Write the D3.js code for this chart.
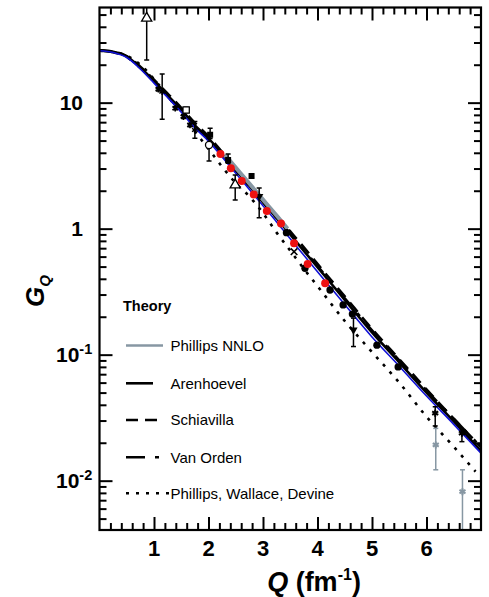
<!DOCTYPE html>
<html><head><meta charset="utf-8">
<script src="https://cdn.jsdelivr.net/npm/d3@7"></script>
<style>
body{margin:0;background:#fff}
svg{display:block;font-family:"Liberation Sans",Arial,Helvetica,sans-serif}
</style>
</head><body>
<svg id="c" width="489" height="597"></svg>
<script>
// ---------------- data ----------------
const xDomain = [0, 7];
const yDomain = [0.00406, 56.9];
const xTickLabels = ["1","2","3","4","5","6"];
const xTickValues = [1,2,3,4,5,6];
const yTickValues = [10, 1, 0.1, 0.01];
const yTickBase = ["10","1","10","10"];
const yTickExp  = ["","","-1","-2"];

// theory curves (Q in fm^-1)
const qGrid = [0,0.25,0.5,0.75,1.0,1.25,1.5,1.75,2.0,2.25,2.5,2.75,3.0,3.25,3.5,3.75,4.0,4.5,5.0,5.5,6.0,6.5,7.0];
const blueCurve  = [25.8,25.0,22.8,18.5,14.3,11.0,8.4,6.3,4.95,3.7,2.75,2.05,1.52,1.13,0.83,0.615,0.455,0.25,0.138,0.081,0.047,0.028,0.0165];
const arenhoevel = [26.0,25.3,23.2,19.0,14.8,11.4,8.8,6.6,5.2,3.9,2.92,2.18,1.62,1.21,0.90,0.665,0.495,0.272,0.150,0.087,0.050,0.0295,0.0172];
const schiavilla = [26.0,25.4,23.4,19.3,15.2,11.8,9.1,6.9,5.4,4.05,3.04,2.28,1.70,1.27,0.95,0.71,0.525,0.29,0.16,0.092,0.053,0.031,0.0185];
const vanOrden   = [25.8,25.1,23.0,18.8,14.6,11.2,8.6,6.5,5.1,3.85,2.88,2.16,1.62,1.22,0.91,0.68,0.505,0.28,0.156,0.090,0.052,0.031,0.0185];
const pwdQ = [0,0.25,0.5,0.75,1.0,1.25,1.5,1.75,2.0,2.25,2.5,2.75,3.0,3.25,3.5,3.75,4.0,4.5,5.0,5.5,6.0,6.5,6.9];
const pwd  = [25.8,25.2,23.6,20.0,15.4,11.3,8.2,5.9,4.3,3.1,2.3,1.8,1.33,0.93,0.67,0.48,0.35,0.185,0.105,0.060,0.0322,0.0186,0.0118];
const nnloQ = [2.3,2.5,2.75,3.0,3.25,3.45];
const nnlo  = [3.85,3.05,2.28,1.70,1.27,1.0];

// experimental data
const openTriQ = [0.866, 2.49], openTriG = [46.8, 2.22], openTriLo = [21.8, 1.69], openTriHi = [80, 2.67];
const openSqQ = [1.59], openSqG = [8.75], openSqLo = [8.35], openSqHi = [9.2];
const openCircQ = [2.01], openCircG = [4.61], openCircLo = [3.44], openCircHi = [5.2];
const fillSqQ = [2.03, 2.36, 2.79], fillSqG = [5.56, 3.51, 2.62], fillSqLo = [5.2, 3.3, 2.55], fillSqHi = [6.27, 3.92, 2.7];
const astQ = [1.15, 1.08, 1.39, 1.54, 1.66, 1.75], astG = [12.2, 12.8, 9.03, 7.74, 6.65, 6.07];
const astLo = [7.4, 12.4, 8.8, 7.5, 6.45, 5.21], astHi = [16.9, 13.2, 9.3, 8.0, 6.85, 7.07];
const downTriQ = [2.93, 4.66], downTriG = [1.80, 0.157], downTriLo = [1.22, 0.116], downTriHi = [2.10, 0.195];
const crossQ = [3.57], crossG = [0.656];
const redQ = [2.22, 2.41, 2.61, 2.83, 3.07, 3.33, 3.57, 3.82, 4.14];
const redG = [3.92, 3.02, 2.39, 1.87, 1.38, 1.10, 0.766, 0.525, 0.369];
const dotQ = [3.43, 3.77, 4.23, 4.47, 4.64, 5.09, 5.48];
const dotG = [0.93, 0.485, 0.326, 0.248, 0.21, 0.119, 0.080];
const starQ = [6.16, 6.65], starG = [0.0343, 0.0238], starLo = [0.0272, 0.0204], starHi = [0.0386, 0.0252];
const greyQ = [6.17, 6.66], greyG = [0.0192, 0.00818], greyLo = [0.0122, 0.003], greyHi = [0.026, 0.0122];

const legendLabels = ["Phillips NNLO","Arenhoevel","Schiavilla","Van Orden","Phillips, Wallace, Devine"];

// ---------------- drawing ----------------
const svg = d3.select("#c");
const L = 99.5, R = 481, T = 7.5, B = 530;
const x = d3.scaleLinear().domain(xDomain).range([L, R]);
const y = d3.scaleLog().domain(yDomain).range([B, T]);
const GREY = "#8797a3", BLUE = "#1111d6", RED = "#ee1111";

svg.append("defs").append("clipPath").attr("id","pc")
  .append("rect").attr("x",L).attr("y",T).attr("width",R-L).attr("height",B-T);
const plot = svg.append("g").attr("clip-path","url(#pc)");

const mk = (qs, gs) => qs.map((q,i)=>({q, g: gs[i]}));
const line = d3.line().x(d=>x(d.q)).y(d=>y(d.g)).curve(d3.curveMonotoneX);

function curve(data, stroke, w, dash){
  plot.append("path").attr("d", line(data)).attr("fill","none")
    .attr("stroke", stroke).attr("stroke-width", w)
    .attr("stroke-dasharray", dash || null);
}
curve(mk(qGrid, arenhoevel), "#000", 2.6);
curve(mk(qGrid, schiavilla), "#000", 2.6, "12,7");
curve(mk(qGrid, vanOrden), "#000", 2.6, "19,10,4,10");
curve(mk(pwdQ, pwd), "#000", 2.6, "3,7");
curve(mk(nnloQ, nnlo), GREY, 4);
curve(mk(qGrid, blueCurve), BLUE, 1.6);

function errbars(qs, lo, hi, color){
  const g = plot.append("g").attr("stroke", color).attr("stroke-width", 1.5);
  qs.forEach((q,i)=>{
    const xx = x(q);
    g.append("line").attr("x1",xx).attr("x2",xx).attr("y1",y(lo[i])).attr("y2",y(hi[i]));
    g.append("line").attr("x1",xx-2.5).attr("x2",xx+2.5).attr("y1",y(lo[i])).attr("y2",y(lo[i]));
    g.append("line").attr("x1",xx-2.5).attr("x2",xx+2.5).attr("y1",y(hi[i])).attr("y2",y(hi[i]));
  });
}
function markers(qs, gs, type, size, fill, stroke, sw, rot){
  const sym = d3.symbol().type(type).size(size);
  plot.append("g").selectAll("path").data(mk(qs, gs)).join("path")
    .attr("d", sym)
    .attr("transform", d=>`translate(${x(d.q)},${y(d.g)})${rot?` rotate(${rot})`:""}`)
    .attr("fill", fill).attr("stroke", stroke).attr("stroke-width", sw);
}

errbars(openTriQ, openTriLo, openTriHi, "#000");
markers(openTriQ, openTriG, d3.symbolTriangle, 45, "#fff", "#000", 1.3);
errbars(openSqQ, openSqLo, openSqHi, "#000");
markers(openSqQ, openSqG, d3.symbolSquare, 40, "#fff", "#000", 1.3);
errbars(openCircQ, openCircLo, openCircHi, "#000");
markers(openCircQ, openCircG, d3.symbolCircle, 40, "#fff", "#000", 1.3);
errbars(fillSqQ, fillSqLo, fillSqHi, "#000");
markers(fillSqQ, fillSqG, d3.symbolSquare, 36, "#000", "none", 0);
errbars(astQ, astLo, astHi, "#000");
markers(astQ, astG, d3.symbolAsterisk, 30, "none", "#000", 1.6);
errbars(downTriQ, downTriLo, downTriHi, "#000");
markers(downTriQ, downTriG, d3.symbolTriangle, 30, "#000", "none", 0, 180);
markers(crossQ, crossG, d3.symbolTimes, 30, "none", "#000", 1.6);
markers(dotQ, dotG, d3.symbolCircle, 42, "#000", "none", 0);
errbars(starQ, starLo, starHi, "#000");
markers(starQ, starG, d3.symbolAsterisk, 34, "none", "#000", 2);
errbars(greyQ, greyLo, greyHi, GREY);
markers(greyQ, greyG, d3.symbolAsterisk, 34, "none", GREY, 2);
markers(redQ, redG, d3.symbolCircle, 50, RED, "none", 0);

// ---------------- axes ----------------
const MAJ = 13, MIN = 7;
const xMinor = d3.range(1, 35).map(i=>i*0.2).filter(v=>Math.abs(v-Math.round(v))>1e-6);
const yMinor = y.ticks().filter(v=>!yTickValues.some(t=>Math.abs(t-v)/t<1e-6) && v>yDomain[0] && v<yDomain[1]);

function axis(gen, tr, vals, size){
  const g = svg.append("g").attr("transform", tr)
    .call(gen.tickValues(vals).tickSize(size).tickSizeOuter(0).tickFormat(""));
  g.select(".domain").remove();
  g.selectAll("line").attr("stroke","#000").attr("stroke-width",2);
}
axis(d3.axisBottom(x), `translate(0,${B})`, xTickValues, -MAJ);
axis(d3.axisBottom(x), `translate(0,${B})`, xMinor, -MIN);
axis(d3.axisTop(x), `translate(0,${T})`, xTickValues, -MAJ);
axis(d3.axisTop(x), `translate(0,${T})`, xMinor, -MIN);
axis(d3.axisLeft(y), `translate(${L},0)`, yTickValues, -MAJ);
axis(d3.axisLeft(y), `translate(${L},0)`, yMinor, -MIN);
axis(d3.axisRight(y), `translate(${R},0)`, yTickValues, -MAJ);
axis(d3.axisRight(y), `translate(${R},0)`, yMinor, -MIN);

svg.append("rect").attr("x",L).attr("y",T).attr("width",R-L).attr("height",B-T)
  .attr("fill","none").attr("stroke","#000").attr("stroke-width",2.2);

// tick labels
svg.append("g").selectAll("text").data(xTickValues).join("text")
  .attr("x", d=>x(d)).attr("y", 556).attr("text-anchor","middle")
  .attr("font-size",22).attr("font-weight","bold").text((d,i)=>xTickLabels[i]);

const yl = svg.append("g").attr("font-size",21).attr("font-weight","bold");
yTickValues.forEach((v,i)=>{
  const t = yl.append("text").attr("y", y(v)+7.5);
  if (yTickExp[i]) {
    t.attr("x", 56).attr("text-anchor","start");
    t.append("tspan").text(yTickBase[i]);
    t.append("tspan").attr("font-size",14.5).attr("dy",-8.5).text(yTickExp[i]);
  } else {
    t.attr("x", 83).attr("text-anchor","end").text(yTickBase[i]);
  }
});

// axis titles
const xt = svg.append("text").attr("x", 314).attr("y", 591).attr("text-anchor","middle")
  .attr("font-size",27).attr("font-weight","bold");
xt.append("tspan").attr("font-style","italic").text("Q");
xt.append("tspan").text(" (fm");
xt.append("tspan").attr("font-size",16).attr("dy",-11).text("-1");
xt.append("tspan").attr("dy",11).text(")");

const ytl = svg.append("text").attr("transform","translate(44,307) rotate(-90)")
  .attr("font-size",26).attr("font-weight","bold").attr("font-style","italic");
ytl.append("tspan").text("G");
ytl.append("tspan").attr("font-size",15).attr("dy",6).text("Q");

// legend
const lg = svg.append("g");
lg.append("text").attr("x",123).attr("y",311).attr("font-size",14.5).attr("font-weight","bold").text("Theory");
const legY = [345.5, 383.3, 420, 457.3, 493.3];
const legStyle = [
  {s:GREY, w:2.6, d:null, x2:163},
  {s:"#000", w:2.6, d:null, x2:153},
  {s:"#000", w:2.6, d:"12,7", x2:160},
  {s:"#000", w:2.6, d:"19,10,4,10", x2:159},
  {s:"#000", w:2.6, d:"3,7", x2:170}
];
legendLabels.forEach((lab,i)=>{
  const st = legStyle[i];
  lg.append("line").attr("x1",126).attr("x2",st.x2).attr("y1",legY[i]).attr("y2",legY[i])
    .attr("stroke",st.s).attr("stroke-width",st.w).attr("stroke-dasharray",st.d);
  lg.append("text").attr("x",170.5).attr("y",legY[i]+5.3).attr("font-size",15).text(lab);
});
</script>
</body></html>
